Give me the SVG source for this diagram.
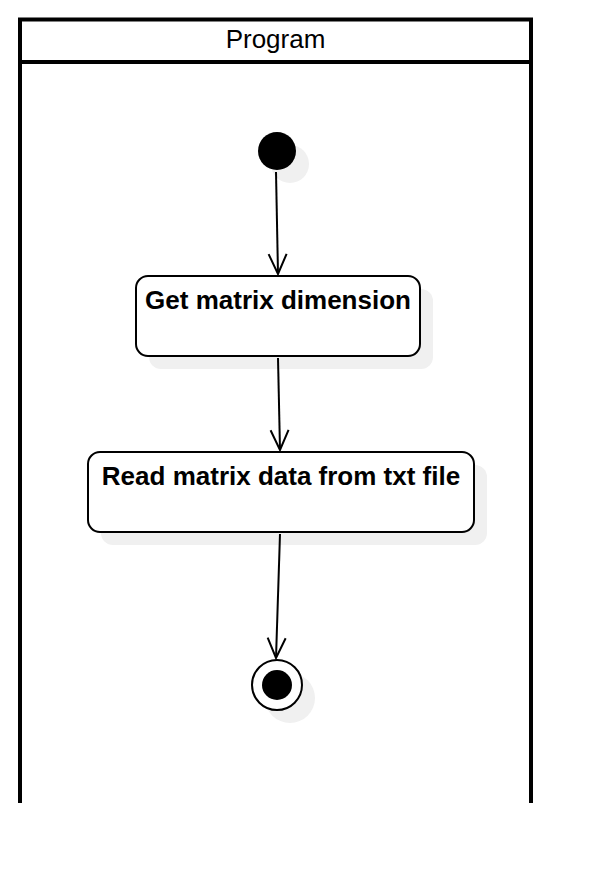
<svg xmlns="http://www.w3.org/2000/svg" width="612" height="884" viewBox="0 0 612 884">
<style>
.lane{fill:none;stroke:#000;stroke-width:4}
.box{fill:#fff;stroke:#000;stroke-width:2}
.shadow{fill:#f0f0f0;stroke:none}
.lbl{font-family:"Liberation Sans",Arial,sans-serif;font-size:26px;font-weight:bold;fill:#000;text-anchor:middle}
.title{font-family:"Liberation Sans",Arial,sans-serif;font-size:26px;fill:#000;text-anchor:middle}
.edge{fill:none;stroke:#000;stroke-width:2}
</style>
<defs>
<marker id="arr" markerUnits="userSpaceOnUse" markerWidth="24" markerHeight="24" viewBox="-22 -12 24 24" refX="0" refY="0" orient="auto">
<path d="M-20,-9 L0,0 L-20,9" fill="none" stroke="#000" stroke-width="2"/>
</marker>
</defs>
<rect width="612" height="884" fill="#fff"/>
<g id="lane">
<path class="lane" d="M20,803 L20,19.5 L531,19.5 L531,803"/>
<line class="lane" x1="20" y1="62" x2="531" y2="62"/>
<text class="title" x="275.5" y="48">Program</text>
</g>
<g id="start">
<circle class="shadow" cx="290" cy="164" r="19"/>
<circle cx="277" cy="151" r="19" fill="#000"/>
</g>
<g id="getdim">
<rect class="shadow" x="149" y="289" width="284" height="80" rx="12"/>
<rect class="box" x="136" y="276" width="284" height="80" rx="12"/>
<text class="lbl" x="278" y="309">Get matrix dimension</text>
</g>
<g id="readdata">
<rect class="shadow" x="101" y="465" width="386" height="80" rx="12"/>
<rect class="box" x="88" y="452" width="386" height="80" rx="12"/>
<text class="lbl" x="281" y="485">Read matrix data from txt file</text>
</g>
<g id="end">
<circle class="shadow" cx="290" cy="698" r="25"/>
<circle cx="277" cy="685" r="25" fill="#fff" stroke="#000" stroke-width="2"/>
<circle cx="277" cy="685" r="15" fill="#000"/>
</g>
<g id="edges">
<path class="edge" d="M276,172 L278,274" marker-end="url(#arr)"/>
<path class="edge" d="M278,358 L280,450" marker-end="url(#arr)"/>
<path class="edge" d="M280,534 L276,658" marker-end="url(#arr)"/>
</g>
</svg>
